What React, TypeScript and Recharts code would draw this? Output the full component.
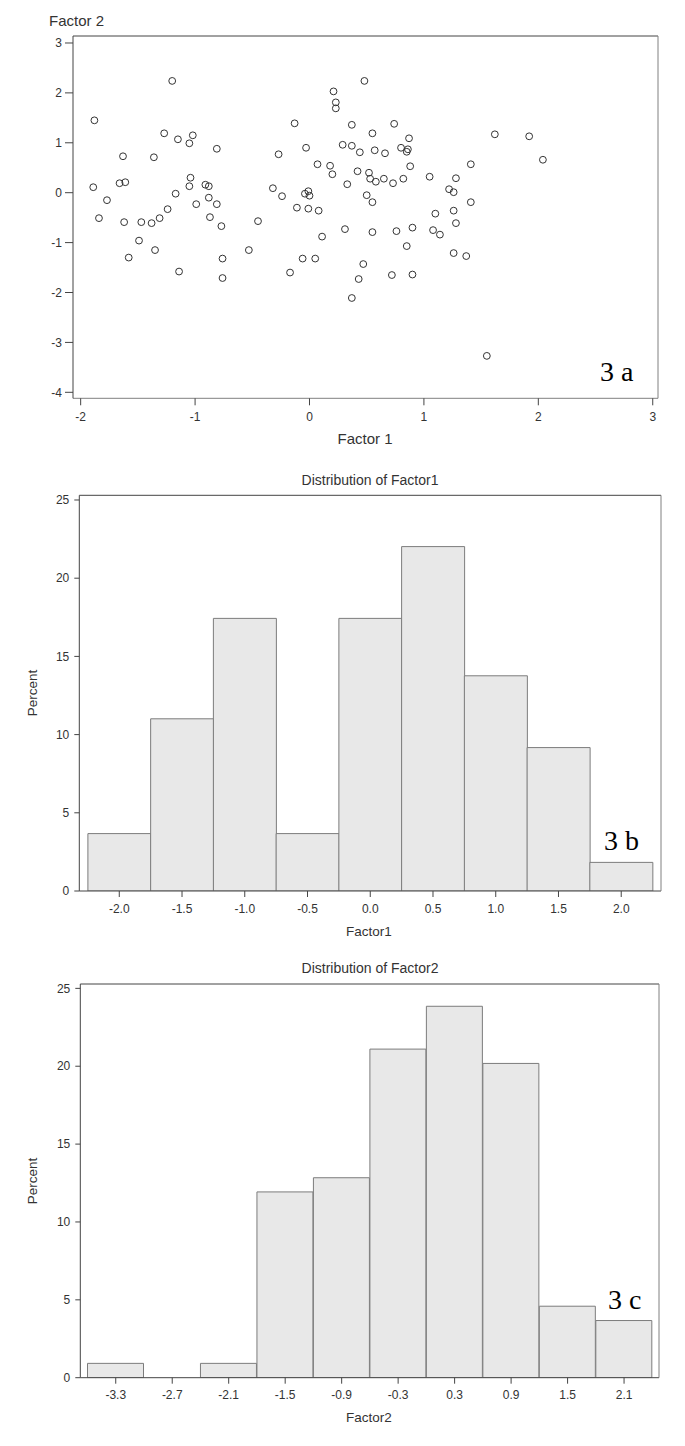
import { ScatterChart, Scatter, BarChart, Bar, XAxis, YAxis } from 'recharts'

// factor scores, one entry per subject (n = 109)
const factor1Scores = [
  -1.88, -1.89, -1.84, -1.77,
  -1.63, -1.66, -1.61, -1.62, -1.47, -1.38, -1.31, -1.49, -1.35, -1.58, -1.36, -1.27,
  -1.2, -1.15, -1.02, -1.05, -0.81, -1.04, -1.05, -0.91, -0.88, -1.17, -0.88, -0.99, -0.81, -1.24, -0.87, -0.77, -0.76, -1.14, -0.76,
  -0.45, -0.53, -0.32, -0.27,
  -0.24, -0.17, -0.13, -0.11, -0.06, -0.04, -0.03, -0.01, 0.0, -0.01, 0.05, 0.07, 0.08, 0.11, 0.18, 0.2, 0.21, 0.23, 0.23,
  0.29, 0.31, 0.33, 0.37, 0.37, 0.37, 0.42, 0.43, 0.44, 0.47, 0.48, 0.5, 0.52, 0.53, 0.55, 0.55, 0.55, 0.57, 0.58, 0.65, 0.66, 0.72, 0.73, 0.74,
  0.76, 0.8, 0.82, 0.85, 0.85, 0.86, 0.87, 0.88, 0.9, 0.9, 1.05, 1.08, 1.1, 1.14, 1.22,
  1.26, 1.26, 1.28, 1.28, 1.26, 1.37, 1.41, 1.41, 1.55, 1.62,
  1.92, 2.04,
]

const factor2Scores = [
  1.45, 0.11, -0.51, -0.15,
  0.73, 0.19, 0.21, -0.59, -0.59, -0.61, -0.51, -0.96, -1.15, -1.3, 0.71, 1.19,
  2.24, 1.07, 1.15, 0.99, 0.88, 0.3, 0.13, 0.16, 0.13, -0.02, -0.1, -0.23, -0.23, -0.33, -0.49, -0.67, -1.32, -1.58, -1.71,
  -0.57, -1.15, 0.09, 0.77,
  -0.07, -1.6, 1.39, -0.3, -1.32, -0.02, 0.9, 0.03, -0.06, -0.32, -1.32, 0.57, -0.36, -0.88, 0.54, 0.37, 2.03, 1.81, 1.69,
  0.96, -0.73, 0.17, 1.36, 0.94, -2.11, 0.43, -1.73, 0.81, -1.43, 2.24, -0.05, 0.4, 0.28, 1.19, -0.19, -0.79, 0.85, 0.22, 0.28, 0.79, -1.65, 0.19, 1.38,
  -0.77, 0.9, 0.28, 0.82, -1.07, 0.87, 1.09, 0.53, -0.7, -1.64, 0.32, -0.75, -0.42, -0.84, 0.07,
  0.01, -0.36, 0.29, -0.61, -1.21, -1.27, 0.57, -0.19, -3.27, 1.17,
  1.13, 0.66,
]

const scatterTicksX = [-2, -1, 0, 1, 2, 3]
const scatterTicksY = [-4, -3, -2, -1, 0, 1, 2, 3]

const factor1Bins = ['-2.0', '-1.5', '-1.0', '-0.5', '0.0', '0.5', '1.0', '1.5', '2.0']
const factor1Percent = [3.67, 11.01, 17.43, 3.67, 17.43, 22.02, 13.76, 9.17, 1.83]

const factor2Bins = ['-3.3', '-2.7', '-2.1', '-1.5', '-0.9', '-0.3', '0.3', '0.9', '1.5', '2.1']
const factor2Percent = [0.92, 0, 0.92, 11.93, 12.84, 21.1, 23.85, 20.18, 4.59, 3.67]

const percentTicks = [0, 5, 10, 15, 20, 25]

const SANS = '"Liberation Sans", Arial, sans-serif'
const SERIF = '"Liberation Serif", "Times New Roman", serif'
const TEXT = '#333'
const AXIS = '#444'
const FRAME = '#808080'

const tickStyle = { fill: TEXT, fontSize: 12, fontFamily: SANS }

const scatterPoints = factor1Scores.map((x, i) => ({ x, y: factor2Scores[i] }))
const f1Data = factor1Bins.map((bin, i) => ({ bin, pct: factor1Percent[i] }))
const f2Data = factor2Bins.map((bin, i) => ({ bin, pct: factor2Percent[i] }))

function OpenCircle(props: any) {
  const { cx, cy } = props
  if (cx == null || cy == null) return null
  return <circle cx={cx} cy={cy} r={3.4} fill="none" stroke="#333" strokeWidth={1} />
}

function ScatterPanel() {
  const xDomain: [number, number] = [-2.067, 3.046]
  const yDomain: [number, number] = [-4.12, 3.14]
  return (
    <ScatterChart width={685} height={450} margin={{ top: 35, right: 26, bottom: 0, left: 0 }}>
      <XAxis
        type="number"
        dataKey="x"
        domain={xDomain}
        ticks={scatterTicksX}
        allowDataOverflow
        height={51.7}
        tickSize={7}
        tickMargin={7}
        tick={tickStyle}
        axisLine={{ stroke: FRAME }}
        tickLine={{ stroke: AXIS }}
      />
      <YAxis
        type="number"
        dataKey="y"
        domain={yDomain}
        ticks={scatterTicksY}
        allowDataOverflow
        width={73}
        tickSize={8}
        tickMargin={3}
        tick={tickStyle}
        axisLine={{ stroke: AXIS }}
        tickLine={{ stroke: AXIS }}
      />
      {/* frame: top and right edges of the plot box */}
      <XAxis xAxisId="top" orientation="top" type="number" domain={xDomain} height={1} tick={false} tickLine={false} axisLine={{ stroke: AXIS }} />
      <YAxis yAxisId="right" orientation="right" type="number" domain={yDomain} width={1} tick={false} tickLine={false} axisLine={{ stroke: FRAME }} />
      <Scatter data={scatterPoints} shape={<OpenCircle />} isAnimationActive={false} />
      <text x={49} y={20} dominantBaseline="central" fontSize={15} fontFamily={SANS} fill={TEXT}>Factor 2</text>
      <text x={365} y={438} textAnchor="middle" dominantBaseline="central" fontSize={15} fontFamily={SANS} fill={TEXT}>Factor 1</text>
      <text x={600} y={381} fontSize={28} fontFamily={SERIF} fill="#000">3 a</text>
    </ScatterChart>
  )
}

interface HistProps {
  data: { bin: string; pct: number }[]
  height: number
  top: number
  right: number
  yWidth: number
  xHeight: number
  padLeft: number
  padRight: number
  yMax: number
  title: string
  titleY: number
  percentY: number
  xLabel: string
  xLabelY: number
  tag: string
  tagX: number
  tagY: number
}

function Histogram(p: HistProps) {
  return (
    <BarChart
      width={685}
      height={p.height}
      data={p.data}
      margin={{ top: p.top, right: p.right, bottom: 0, left: 0 }}
      barCategoryGap={0}
    >
      <XAxis
        dataKey="bin"
        interval={0}
        height={p.xHeight}
        padding={{ left: p.padLeft, right: p.padRight }}
        tickSize={6}
        tickMargin={7}
        tick={tickStyle}
        axisLine={{ stroke: AXIS }}
        tickLine={{ stroke: AXIS }}
      />
      <YAxis
        type="number"
        domain={[0, p.yMax]}
        ticks={percentTicks}
        allowDataOverflow
        width={p.yWidth}
        tickSize={5}
        tickMargin={5}
        tick={tickStyle}
        axisLine={{ stroke: AXIS }}
        tickLine={{ stroke: AXIS }}
      />
      <XAxis xAxisId="top" orientation="top" dataKey="bin" height={1} tick={false} tickLine={false} axisLine={{ stroke: AXIS }} />
      <YAxis yAxisId="right" orientation="right" type="number" domain={[0, p.yMax]} width={1} tick={false} tickLine={false} axisLine={{ stroke: FRAME }} />
      <Bar dataKey="pct" fill="#e8e8e8" stroke="#7c7c7c" strokeWidth={1} isAnimationActive={false} />
      <text x={370} y={p.titleY} textAnchor="middle" dominantBaseline="central" fontSize={14} fontFamily={SANS} fill={TEXT}>{p.title}</text>
      <text
        x={32}
        y={p.percentY}
        textAnchor="middle"
        dominantBaseline="central"
        transform={`rotate(-90 32 ${p.percentY})`}
        fontSize={13.5}
        fontFamily={SANS}
        fill={TEXT}
      >
        Percent
      </text>
      <text x={369} y={p.xLabelY} textAnchor="middle" dominantBaseline="central" fontSize={13.5} fontFamily={SANS} fill={TEXT}>{p.xLabel}</text>
      <text x={p.tagX} y={p.tagY} fontSize={28} fontFamily={SERIF} fill="#000">{p.tag}</text>
    </BarChart>
  )
}

export default function App() {
  return (
    <div style={{ position: 'absolute', left: 0, top: 0, width: 685, height: 1446, background: '#fff' }}>
      <div style={{ position: 'absolute', left: 0, top: 0 }}>
        <ScatterPanel />
      </div>
      <div style={{ position: 'absolute', left: 0, top: 450 }}>
        <Histogram
          data={f1Data}
          height={500}
          top={44.3}
          right={23}
          yWidth={79.3}
          xHeight={59}
          padLeft={8.6}
          padRight={8.4}
          yMax={25.3}
          title="Distribution of Factor1"
          titleY={30}
          percentY={243}
          xLabel="Factor1"
          xLabelY={481.7}
          tag="3 b"
          tagX={604}
          tagY={400}
        />
      </div>
      <div style={{ position: 'absolute', left: 0, top: 950 }}>
        <Histogram
          data={f2Data}
          height={496}
          top={33}
          right={25}
          yWidth={80.3}
          xHeight={68.3}
          padLeft={7.2}
          padRight={6.7}
          yMax={25.28}
          title="Distribution of Factor2"
          titleY={17.7}
          percentY={231}
          xLabel="Factor2"
          xLabelY={467}
          tag="3 c"
          tagX={608}
          tagY={359}
        />
      </div>
    </div>
  )
}
